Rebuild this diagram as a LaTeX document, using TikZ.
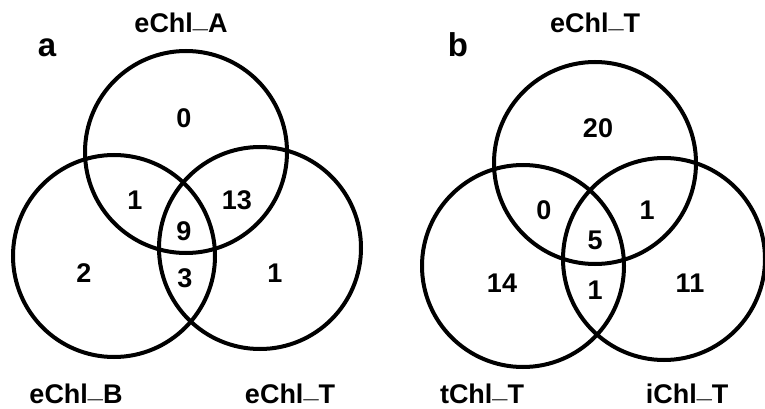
\documentclass[tikz,border=0pt]{standalone}
\usepackage{fontspec}
\setmainfont{Liberation Sans}
\newcommand{\usc}{\raisebox{0.2em}{\_}}
\begin{document}
\begin{tikzpicture}[x=1pt,y=-1pt,
  venn/.style={draw=black,line width=4pt},
  num/.style={font=\fontsize{27}{27}\selectfont\bfseries,inner sep=0pt,anchor=center},
  setlab/.style={font=\fontsize{27}{27}\selectfont\bfseries,inner sep=0pt,anchor=base},
  panel/.style={font=\fontsize{33}{33}\selectfont\bfseries,inner sep=0pt,anchor=base}]
\useasboundingbox (0,0) rectangle (765,409);
% panel a
\draw[venn] (186,152) circle (101);
\draw[venn] (114,256) circle (101);
\draw[venn] (260,248) circle (101);
\node[panel] (pa) at (47,57) {a};
\node[setlab] (la) at (181,33) {eChl\usc A};
\node[setlab] (lb) at (76,403) {eChl\usc B};
\node[setlab] (lc) at (290,403) {eChl\usc T};
\node[num] (a1) at (184,118) {0};
\node[num] (a2) at (135,200) {1};
\node[num] (a3) at (237,200) {13};
\node[num] (a4) at (184,231) {9};
\node[num] (a5) at (84,273) {2};
\node[num] (a6) at (185,278) {3};
\node[num] (a7) at (275,273) {1};
% panel b
\draw[venn] (595,163) circle (101);
\draw[venn] (523,266) circle (101);
\draw[venn] (664,259) circle (101);
\node[panel] (pb) at (458,57) {b};
\node[setlab] (ld) at (595,33) {eChl\usc T};
\node[setlab] (le) at (482,403) {tChl\usc T};
\node[setlab] (lf) at (687,403) {iChl\usc T};
\node[num] (b1) at (598,128) {20};
\node[num] (b2) at (544,210) {0};
\node[num] (b3) at (647,210) {1};
\node[num] (b4) at (595,240) {5};
\node[num] (b5) at (502,283) {14};
\node[num] (b6) at (595,290) {1};
\node[num] (b7) at (690,283) {11};
\end{tikzpicture}
\end{document}
